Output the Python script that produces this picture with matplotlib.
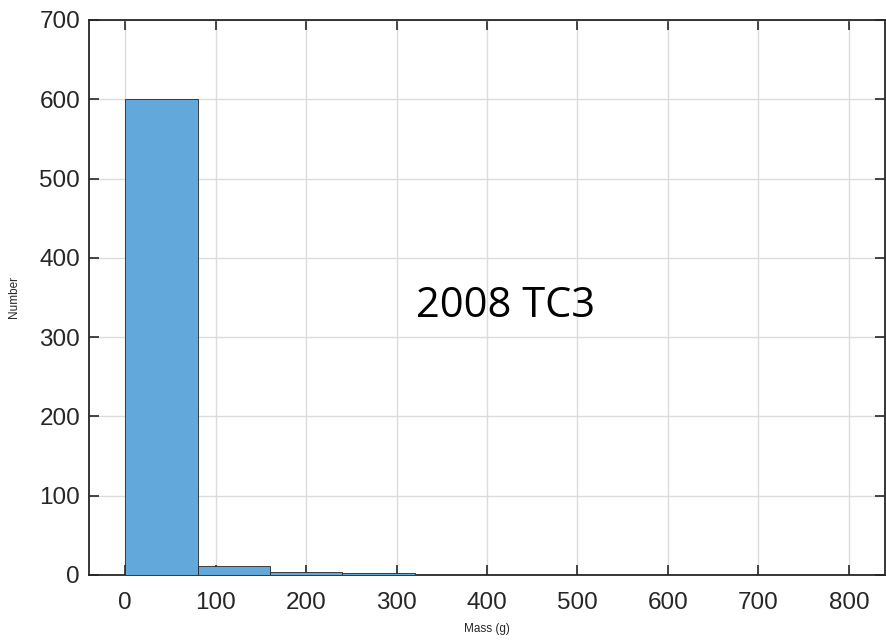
import matplotlib
matplotlib.use("Agg")
import matplotlib.pyplot as plt
import numpy as np

# histogram of fragment masses, 2008 TC3
bin_edges = [0, 80, 160, 240, 320]
counts = [600, 11, 4, 2]
x_ticks = [0, 100, 200, 300, 400, 500, 600, 700, 800]
y_ticks = [0, 100, 200, 300, 400, 500, 600, 700]

plt.rcParams['font.family'] = ['Liberation Sans', 'DejaVu Sans']

fig = plt.figure(figsize=(8.86, 6.42), dpi=100)
ax = fig.add_axes([0.1005, 0.1044, 0.8984, 0.8645])

ax.hist(bin_edges[:-1], bins=bin_edges, weights=counts,
        facecolor='#62a8da', edgecolor='#262626', linewidth=0.6, zorder=3)

ax.set_xlim(-40, 840)
ax.set_ylim(0, 700)
ax.set_xticks(x_ticks)
ax.set_yticks(y_ticks)
ax.grid(True, color='#dcdcdc', linewidth=1.0, zorder=0)
ax.set_axisbelow(True)
ax.tick_params(direction='in', length=7, width=1.2, labelsize=17.5,
               colors='#262626', top=True, right=True, labeltop=False, labelright=False)
ax.tick_params(axis='x', pad=12)
ax.tick_params(axis='y', pad=6.5)
for s in ax.spines.values():
    s.set_linewidth(1.3)
    s.set_color('#262626')

ax.set_xlabel('Mass (g)', fontsize=8.5, color='#262626', labelpad=7)
ax.set_ylabel('Number', fontsize=8.5, color='#262626', labelpad=14)

ax.text(321, 325, '2008 TC3', fontsize=30, family='Open Sans', color='black',
        ha='left', va='baseline')

fig.savefig('out.png', dpi=100)
